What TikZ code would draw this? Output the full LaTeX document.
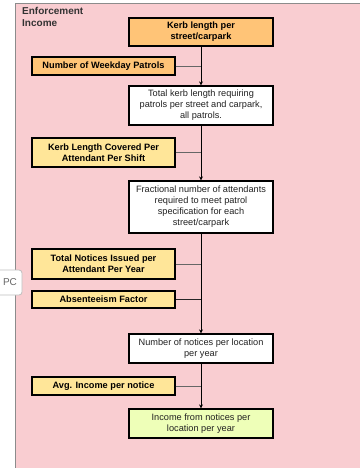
\documentclass[tikz,border=0pt]{standalone}
\usepackage{fontspec}
\setmainfont{Liberation Sans}
\usetikzlibrary{arrows.meta}
\definecolor{bgpink}{HTML}{F9CDD1}
\definecolor{inorange}{HTML}{FFC477}
\definecolor{inyellow}{HTML}{FFE699}
\definecolor{outgreen}{HTML}{EEFFB8}
\definecolor{txt}{HTML}{222222}
\tikzset{
  base/.style={draw=black, line width=1.2pt, align=center, inner sep=1pt,
    font=\fontsize{9.2}{11}\selectfont, text=txt},
  mainbox/.style={base, minimum width=144pt},
  inbox/.style={base, minimum width=143pt, font=\fontsize{9.2}{11}\selectfont\bfseries, text=black},
  calc/.style={mainbox, fill=white},
  flow/.style={draw=black, line width=0.8pt, -{Stealth[length=4pt,width=4pt]}},
  feed/.style={draw=black!60, line width=0.8pt},
}
\begin{document}
\begin{tikzpicture}[x=1pt,y=-1pt]
\useasboundingbox (0,0) rectangle (360,468);
% background
\fill[white] (0,0) rectangle (360,468);
\fill[bgpink] (15,3) rectangle (360,468);
\draw[black!45, line width=0.8pt] (15,468) -- (15,3) -- (360,3);
\node[anchor=north west, align=left, inner sep=0pt, text=black!80,
  font=\fontsize{10}{12}\selectfont\bfseries] (title) at (22,7.5) {Enforcement\\Income};
% main column
\node[mainbox, fill=inorange, minimum height=28pt, font=\fontsize{9.2}{11}\selectfont\bfseries, text=black] (k1) at (201,32) {Kerb length per\\street/carpark};
\node[calc, minimum height=39pt] (t2) at (201,105.5) {Total kerb length requiring\\patrols per street and carpark,\\all patrols.};
\node[calc, minimum height=52pt] (fr) at (201,207) {Fractional number of attendants\\required to meet patrol\\specification for each\\street/carpark};
\node[calc, minimum height=29pt] (nn) at (201,348.5) {Number of notices per location\\per year};
\node[mainbox, fill=outgreen, minimum height=29pt] (gi) at (201,423.5) {Income from notices per\\location per year};
% inputs
\node[inbox, fill=inorange, minimum height=18pt] (wp) at (103.5,66) {Number of Weekday Patrols};
\node[inbox, fill=inyellow, minimum height=29pt] (kl) at (103.5,152.5) {Kerb Length Covered Per\\Attendant Per Shift};
\node[inbox, fill=inyellow, minimum height=30pt] (tn) at (103.5,264) {Total Notices Issued per\\Attendant Per Year};
\node[inbox, fill=inyellow, minimum height=17pt] (ab) at (103.5,299.5) {Absenteeism Factor};
\node[inbox, fill=inyellow, minimum height=18pt] (av) at (103.5,386) {Avg. Income per notice};
% feeds
\draw[feed] (wp.east) -- (wp.east -| k1.south);
\draw[feed] (kl.east) -- (kl.east -| k1.south);
\draw[feed] (tn.east) -- (tn.east -| k1.south);
\draw[feed, draw=black!85] (ab.east) -- (ab.east -| k1.south);
\draw[feed] (av.east) -- (av.east -| k1.south);
% flow
\draw[flow] (k1.south) -- (t2.north);
\draw[flow] (t2.south) -- (fr.north);
\draw[flow] (fr.south) -- (nn.north);
\draw[flow] (nn.south) -- (gi.north);
% PC tab
\node[draw=black!25, fill=white, rounded corners=3pt, line width=0.8pt,
  minimum width=30pt, minimum height=25pt, text=black!60,
  font=\fontsize{10}{12}\selectfont] (pc) at (7,282.5) {\hspace*{6pt}PC};
\end{tikzpicture}
\end{document}
